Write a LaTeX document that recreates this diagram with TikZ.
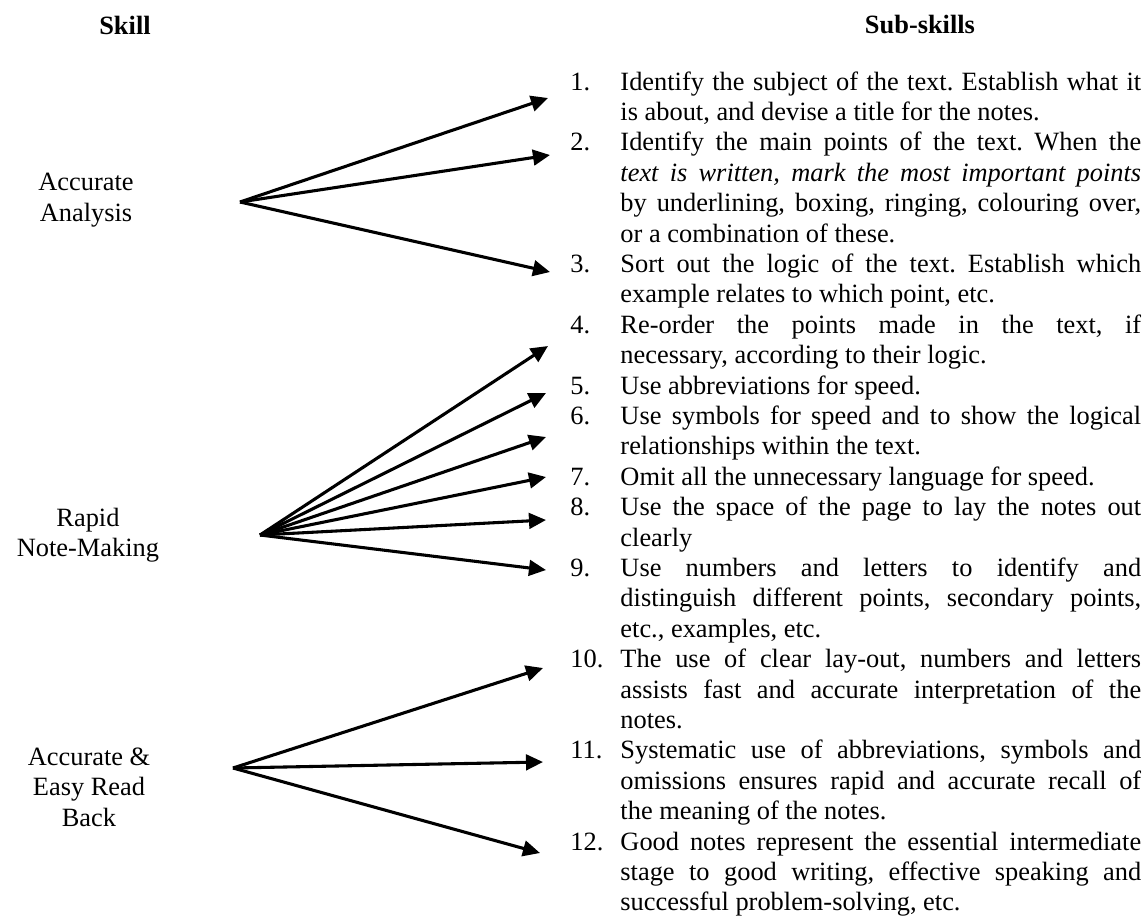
\documentclass[tikz,border=0pt]{standalone}
\usepackage{fontspec}
\setmainfont{Liberation Serif}
\usetikzlibrary{arrows.meta}

\newcommand{\jl}[1]{\makebox[\linewidth][s]{#1}}
\frenchspacing

\begin{document}
\begin{tikzpicture}[x=0.4225pt, y=-0.4225pt,
		every node/.style={font=\fontsize{11.15}{12.85}\selectfont, inner sep=0pt},
		skill/.style={align=center},
		num/.style={anchor=base west},
		sub/.style={anchor=base west},
		arr/.style={-{Triangle[length=7.2pt, width=6.6pt]}, line width=1.3pt}]
			\def\s{30.4};
			\def\b{90};
			\def\w{220pt};
			
			\useasboundingbox (0,0) rectangle (1148,921);
			
			\node [font=\fontsize{11.15}{12.85}\selectfont\bfseries] (hskill) at (125,25) {Skill};
			\node [font=\fontsize{11.15}{12.85}\selectfont\bfseries] (hsub) at (920,25) {Sub-skills};
			
			\node [skill] (aa) at (86,200) {Accurate\\Analysis};
			\node [skill] (rn) at (88,535) {Rapid\\Note-Making};
			\node [skill] (er) at (89,787) {Accurate \&\\Easy Read\\Back};
			
			\coordinate (oa) at (240,202);
			\coordinate (or) at (260,535);
			\coordinate (oe) at (233,768);
			
			\node [num] (n1) at (570,{\b}) {1.};
			\node [num] (n2) at (570,{\b+2*\s}) {2.};
			\node [num] (n3) at (570,{\b+6*\s}) {3.};
			\node [num] (n4) at (570,{\b+8*\s}) {4.};
			\node [num] (n5) at (570,{\b+10*\s}) {5.};
			\node [num] (n6) at (570,{\b+11*\s}) {6.};
			\node [num] (n7) at (570,{\b+13*\s}) {7.};
			\node [num] (n8) at (570,{\b+14*\s}) {8.};
			\node [num] (n9) at (570,{\b+16*\s}) {9.};
			\node [num] (n10) at (570,{\b+19*\s}) {10.};
			\node [num] (n11) at (570,{\b+22*\s}) {11.};
			\node [num] (n12) at (570,{\b+25*\s}) {12.};
			
			\node [sub] (s1) at (620,{\b}) {\parbox[t]{\w}{\jl{Identify the subject of the text. Establish what it}\\
				is about, and devise a title for the notes.}};
			\node [sub] (s2) at (620,{\b+2*\s}) {\parbox[t]{\w}{\jl{Identify the main points of the text. When the}\\
				\jl{\textit{text is written, mark the most important points}}\\
				\jl{by underlining, boxing, ringing, colouring over,}\\
				or a combination of these.}};
			\node [sub] (s3) at (620,{\b+6*\s}) {\parbox[t]{\w}{\jl{Sort out the logic of the text. Establish which}\\
				example relates to which point, etc.}};
			\node [sub] (s4) at (620,{\b+8*\s}) {\parbox[t]{\w}{\jl{Re-order the points made in the text, if}\\
				necessary, according to their logic.}};
			\node [sub] (s5) at (620,{\b+10*\s}) {\parbox[t]{\w}{Use abbreviations for speed.}};
			\node [sub] (s6) at (620,{\b+11*\s}) {\parbox[t]{\w}{\jl{Use symbols for speed and to show the logical}\\
				relationships within the text.}};
			\node [sub] (s7) at (620,{\b+13*\s}) {\parbox[t]{\w}{Omit all the unnecessary language for speed.}};
			\node [sub] (s8) at (620,{\b+14*\s}) {\parbox[t]{\w}{\jl{Use the space of the page to lay the notes out}\\
				clearly}};
			\node [sub] (s9) at (620,{\b+16*\s}) {\parbox[t]{\w}{\jl{Use numbers and letters to identify and}\\
				\jl{distinguish different points, secondary points,}\\
				etc., examples, etc.}};
			\node [sub] (s10) at (620,{\b+19*\s}) {\parbox[t]{\w}{\jl{The use of clear lay-out, numbers and letters}\\
				\jl{assists fast and accurate interpretation of the}\\
				notes.}};
			\node [sub] (s11) at (620,{\b+22*\s}) {\parbox[t]{\w}{\jl{Systematic use of abbreviations, symbols and}\\
				\jl{omissions ensures rapid and accurate recall of}\\
				the meaning of the notes.}};
			\node [sub] (s12) at (620,{\b+25*\s}) {\parbox[t]{\w}{\jl{Good notes represent the essential intermediate}\\
				\jl{stage to good writing, effective speaking and}\\
				successful problem-solving, etc.}};
			
			\coordinate (t1) at (548,98);
			\coordinate (t2) at (550,155);
			\coordinate (t3) at (550,272);
			\coordinate (t4) at (548,346);
			\coordinate (t5) at (546,393);
			\coordinate (t6) at (546,437);
			\coordinate (t7) at (546,477);
			\coordinate (t8) at (546,520);
			\coordinate (t9) at (546,570);
			\coordinate (t10) at (543,668);
			\coordinate (t11) at (543,762);
			\coordinate (t12) at (540,853);
			
			\begin{scope}[arr]
				\draw (oa) -- (t1);
				\draw (oa) -- (t2);
				\draw (oa) -- (t3);
				\draw (or) -- (t4);
				\draw (or) -- (t5);
				\draw (or) -- (t6);
				\draw (or) -- (t7);
				\draw (or) -- (t8);
				\draw (or) -- (t9);
				\draw (oe) -- (t10);
				\draw (oe) -- (t11);
				\draw (oe) -- (t12);
			\end{scope}
		\end{tikzpicture}
\end{document}
